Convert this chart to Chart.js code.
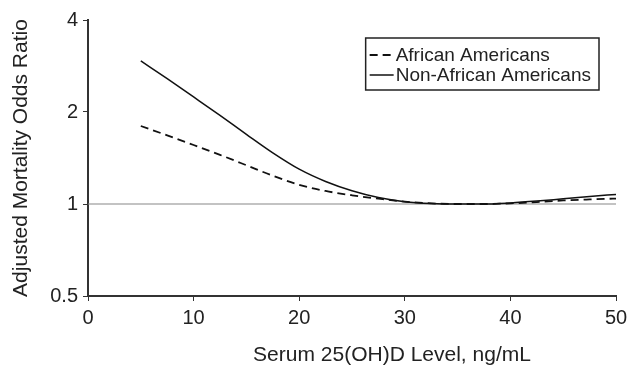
<!doctype html>
<html lang="en">
  <head>
    <meta charset="utf-8">
    <title>Mortality odds ratio by serum 25(OH)D</title>
    <script src="https://cdn.jsdelivr.net/npm/chart.js@4.4.0/dist/chart.umd.min.js"></script>
  </head>

  <style>
    body {
      margin: 0;
      background-color: #ffffff;
    }
    #wrap {
      width: 633px;
      height: 366px;
    }
  </style>

  <body>
    <div id="wrap">
      <canvas id="orGraph"></canvas>
    </div>
  </body>

  <script>
    // serum level (ng/mL)
    const levels = [5, 7.5, 10, 12.5, 15, 17.5, 20, 22.5, 25, 27.5, 30, 32.5, 35, 37.5, 40, 42.5, 45, 47.5, 50];
    // odds ratios
    const africanAm = [1.80, 1.677, 1.56, 1.448, 1.339, 1.237, 1.156, 1.103, 1.068, 1.041, 1.018, 1.005, 1.0, 1.0, 1.005, 1.015, 1.027, 1.035, 1.042];
    const nonAfricanAm = [2.94, 2.57, 2.24, 1.95, 1.69, 1.47, 1.30, 1.185, 1.105, 1.05, 1.018, 1.004, 1.0, 1.0, 1.008, 1.022, 1.04, 1.058, 1.075];
    const refLine = [1, 1];
    const refX = [0, 50];
    const yTicks = [0.5, 1, 2, 4];
    const xTitle = 'Serum 25(OH)D Level, ng/mL';
    const yTitle = 'Adjusted Mortality Odds Ratio';

    const FONT = "'Liberation Sans', Arial, sans-serif";
    const INK = '#222';

    function pts(xs, ys) {
      return xs.map((x, i) => ({x: x, y: ys[i]}));
    }

    // legend with a box round it, top right of the plot
    const boxLegend = {
      id: 'boxLegend',
      afterDraw(chart) {
        const ctx = chart.ctx;
        const area = chart.chartArea;
        const items = chart.data.datasets.filter(d => !d.hideInLegend);
        ctx.save();
        ctx.font = '19px ' + FONT;
        let w = 0;
        items.forEach(d => { w = Math.max(w, ctx.measureText(d.label).width); });
        const boxW = w + 4 + 24 + 10;
        const boxH = 52;
        const right = area.right - 17;
        const left = right - boxW;
        const top = area.top + 18;
        ctx.strokeStyle = INK;
        ctx.lineWidth = 1.5;
        ctx.strokeRect(left, top, boxW, boxH);
        items.forEach((d, i) => {
          const cy = top + 17 + i * 20;
          ctx.beginPath();
          ctx.setLineDash(d.borderDash || []);
          ctx.lineWidth = d.borderWidth;
          ctx.strokeStyle = d.borderColor;
          ctx.moveTo(left + 4, cy);
          ctx.lineTo(left + 28, cy);
          ctx.stroke();
          ctx.setLineDash([]);
          ctx.fillStyle = INK;
          ctx.textBaseline = 'middle';
          ctx.fillText(d.label, left + 30, cy + 1);
        });
        ctx.restore();
      }
    };

    // x axis title sits a bit right of the plot centre in the original
    const xAxisTitle = {
      id: 'xAxisTitle',
      afterDraw(chart) {
        const ctx = chart.ctx;
        const area = chart.chartArea;
        ctx.save();
        ctx.font = '21px ' + FONT;
        ctx.fillStyle = INK;
        ctx.textAlign = 'center';
        ctx.textBaseline = 'middle';
        ctx.fillText(xTitle, (area.left + area.right) / 2 + 40, 355);
        ctx.restore();
      }
    };

    const config = {
      type: 'line',
      data: {
        datasets: [
          {
            label: 'African Americans',
            data: pts(levels, africanAm),
            borderColor: '#111',
            borderWidth: 1.8,
            borderDash: [8, 5],
            pointRadius: 0,
            cubicInterpolationMode: 'monotone',
            fill: false
          },
          {
            label: 'Non-African Americans',
            data: pts(levels, nonAfricanAm),
            borderColor: '#111',
            borderWidth: 1.5,
            pointRadius: 0,
            cubicInterpolationMode: 'monotone',
            fill: false
          },
          {
            label: 'reference',
            hideInLegend: true,
            data: pts(refX, refLine),
            borderColor: '#888',
            borderWidth: 1.2,
            pointRadius: 0,
            fill: false
          }
        ]
      },
      options: {
        responsive: true,
        maintainAspectRatio: false,
        animation: false,
        layout: {
          padding: {left: 0, right: 17, top: 20, bottom: 0}
        },
        plugins: {
          legend: { display: false },
          tooltip: { enabled: false }
        },
        scales: {
          x: {
            type: 'linear',
            min: 0,
            max: 50,
            grid: { display: true, drawOnChartArea: false, drawTicks: true, tickLength: 5, color: '#333' },
            border: { color: '#333', width: 2 },
            ticks: { stepSize: 10, color: INK, font: { family: FONT, size: 20 }, padding: 5, maxRotation: 0 },
            afterFit(scale) { scale.height = 70; }
          },
          y: {
            type: 'logarithmic',
            min: 0.5,
            max: 4,
            grid: { display: true, drawOnChartArea: false, drawTicks: true, tickLength: 5, color: '#333' },
            border: { color: '#333', width: 2 },
            ticks: {
              color: INK,
              font: { family: FONT, size: 20 },
              padding: 5,
              callback: v => String(v)
            },
            afterBuildTicks(scale) {
              scale.ticks = yTicks.map(v => ({value: v}));
            },
            title: {
              display: true,
              text: yTitle,
              color: INK,
              font: { family: FONT, size: 21 },
              padding: { top: 9, bottom: 0 }
            },
            afterFit(scale) { scale.width = 88; }
          }
        }
      },
      plugins: [boxLegend, xAxisTitle]
    };

    new Chart(document.getElementById('orGraph'), config);
  </script>

</html>
